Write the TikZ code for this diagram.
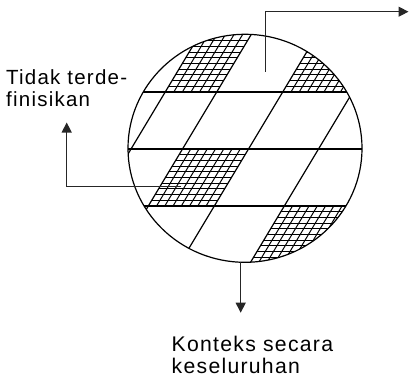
\documentclass[tikz,border=0pt]{standalone}
\usepackage{fontspec}
\setmainfont{Liberation Sans}[LetterSpace=6]
\usetikzlibrary{arrows.meta}
\begin{document}
\begin{tikzpicture}[x=1pt,y=-1pt,
  main/.style={line width=1.2pt,black},
  hatch/.style={line width=1pt,black},
  conn/.style={line width=1.3pt,black!85,-{Triangle[length=10pt,width=10pt]}},
  lbl/.style={inner sep=0pt,anchor=base west,align=left}]
\useasboundingbox (0,0) rectangle (409,377);
% slanted line through x0 at y=149, slope dx/dy=-0.6
\newcommand\slantln[2][hatch]{\draw[#1] ({#2+89.4},0) -- ({#2-136.8},377);}
\begin{scope}
  \clip (245,148.3) ellipse [x radius=117pt, y radius=114pt];
  % region 1: band 1 between B and A
  \begin{scope}
    \clip (208.4,20) -- (259.9,20) -- (216.7,92) -- (165.2,92) -- cycle;
    \foreach \k in {1,...,11} \draw[hatch] (0,{92-\k*5.7}) -- (409,{92-\k*5.7});
    \foreach \j in {1,...,5} {\slantln{131+\j*8.583}}
  \end{scope}
  % region 2: band 1 right of C
  \begin{scope}
    \clip (325.9,20) -- (400,20) -- (400,92) -- (282.7,92) -- cycle;
    \foreach \k in {1,...,11} \draw[hatch] (0,{92-\k*5.7}) -- (409,{92-\k*5.7});
    \foreach \j in {1,...,14} {\slantln{248.5+\j*8.25}}
  \end{scope}
  % region 3: band 3 between A and C
  \begin{scope}
    \clip (182.5,149) -- (248.5,149) -- (214.3,206) -- (148.3,206) -- cycle;
    \foreach \k in {1,...,9} \draw[hatch] (0,{149+\k*5.7}) -- (409,{149+\k*5.7});
    \foreach \j in {1,...,7} {\slantln{182.5+\j*8.25}}
  \end{scope}
  % region 4: band 4 right of D
  \begin{scope}
    \clip (284.3,206) -- (400,206) -- (400,280) -- (239.9,280) -- cycle;
    \foreach \k in {1,...,12} \draw[hatch] (0,{206+\k*5.7}) -- (409,{206+\k*5.7});
    \foreach \j in {1,...,14} {\slantln{318.5+\j*8.25}}
  \end{scope}
  % main grid
  \foreach \yy in {92,149,206} \draw[main] (100,\yy) -- (380,\yy);
  \foreach \xx in {131,182.5,248.5,318.5} {\slantln[main]{\xx}}
\end{scope}
\draw[main] (245,148.3) ellipse [x radius=117pt, y radius=114pt];
% labels (base anchor = baseline of last line)
\node[lbl,font=\fontsize{20.5}{22.7}\selectfont] (undef) at (6,106.7) {Tidak terde-\\finisikan};
\node[lbl,font=\fontsize{21.2}{21.6}\selectfont] (ctx) at (171.5,373.3) {Konteks secara\\keseluruhan};
% connectors
\coordinate (topstart) at (265.7,71.7);
\coordinate (topend) at (408.5,11.7);
\coordinate (midstart) at (181,186.5);
\coordinate (lefttip) at (66.7,122.5);
\coordinate (botstart) at (240.7,262.3);
\coordinate (bottip) at (240.7,312.7);
\draw[conn] (topstart) |- (topend);
\draw[conn] (midstart) -| (lefttip);
\draw[conn] (botstart) -- (bottip);
\end{tikzpicture}
\end{document}
